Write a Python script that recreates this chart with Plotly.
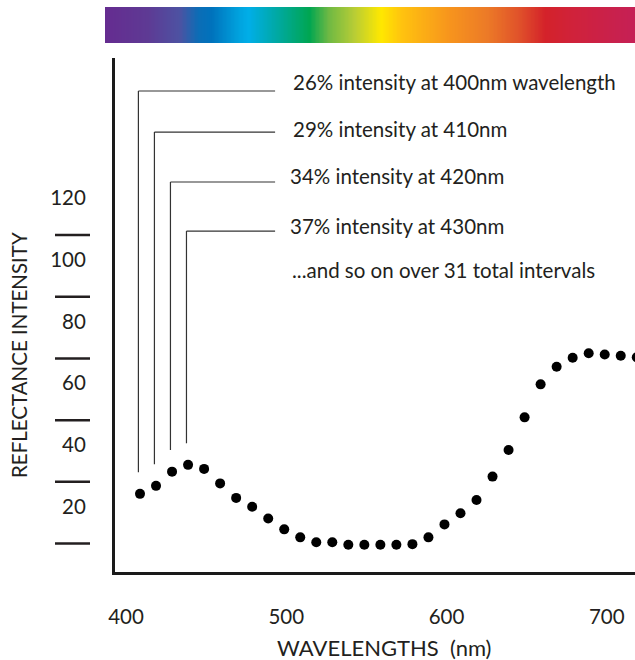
import plotly.graph_objects as go
import numpy as np

# ---- data ----
wavelengths = list(range(400, 720, 10))  # 32 measured intervals shown
intensity = [24.1, 26.7, 31.3, 33.5, 32.2, 27.5, 22.8, 19.9, 16.1, 12.6,
             10.0, 8.4, 8.4, 7.6, 7.6, 7.6, 7.6, 7.8, 10.0, 14.2,
             17.8, 22.1, 29.7, 38.3, 48.9, 59.6, 65.3, 68.2, 69.7, 69.3,
             68.9, 68.4]

y_tick_vals = [20, 40, 60, 80, 100, 120]
y_tick_text = ["20", "40", "60", "80", "100", "120"]
y_dash_vals = [8, 28, 48, 68, 88, 108]
x_tick_vals = [400, 500, 600, 700]
x_tick_text = ["400", "500", "600", "700"]

callout_texts = ["26% intensity at 400nm wavelength",
                 "29% intensity at 410nm",
                 "34% intensity at 420nm",
                 "37% intensity at 430nm",
                 "...and so on over 31 total intervals"]
callout_wavelengths = [400, 410, 420, 430]
callout_tops = [154.7, 141.4, 125.2, 109.3]

spectrum_stops = [
    (0.00, "#652c90"), (0.08, "#5e3a94"), (0.14, "#4d52a2"),
    (0.175, "#0c6db6"), (0.20, "#0072bc"), (0.25, "#00a1dd"),
    (0.27, "#00aee8"), (0.32, "#00a9a8"), (0.385, "#00a651"),
    (0.42, "#6cb844"), (0.47, "#b8cd35"), (0.52, "#ffe800"),
    (0.56, "#ffc20f"), (0.65, "#f7941d"), (0.72, "#ec7a27"),
    (0.78, "#e0522a"), (0.83, "#d4222a"), (0.88, "#d0223a"),
    (1.00, "#c52056"),
]

# ---- layout constants (pixels) ----
W, H = 635, 660
FONT = "Lato"
WEIGHT = 400
INK = "#231f20"

def px_x(p):
    return p / W

def px_y(p):
    return 1 - p / H

def tfont(size):
    return dict(family=FONT, size=size, color=INK, weight=WEIGHT)

fig = go.Figure()

# spectrum bar
n = 400
fig.add_trace(go.Heatmap(
    z=[list(np.linspace(0, 1, n))], x=list(np.linspace(0, 1, n)), y=[0],
    colorscale=[[s, c] for s, c in spectrum_stops], zmin=0, zmax=1,
    zsmooth="best", showscale=False, hoverinfo="skip",
    xaxis="x2", yaxis="y2"))

# data dots
fig.add_trace(go.Scatter(
    x=wavelengths, y=intensity, mode="markers",
    marker=dict(size=10, color="#000000"),
    cliponaxis=True, showlegend=False))

shapes = []
# dashes to the left of y axis
for v in y_dash_vals:
    shapes.append(dict(type="line", xref="paper", yref="y",
                       x0=px_x(55), x1=px_x(90), y0=v, y1=v,
                       line=dict(color=INK, width=2.5)))

# leader lines
LEADER_END_NM = 484.3
GAP = 7
for wl, top in zip(callout_wavelengths, callout_tops):
    val = intensity[wavelengths.index(wl)]
    shapes.append(dict(type="line", xref="x", yref="y",
                       x0=wl - 1, x1=wl - 1, y0=val + GAP, y1=top,
                       line=dict(color="#333333", width=1.2)))
    shapes.append(dict(type="line", xref="x", yref="y",
                       x0=wl - 1, x1=LEADER_END_NM, y0=top, y1=top,
                       line=dict(color="#333333", width=1.2)))

annotations = []
text_y = [82, 129, 176, 226, 270]
text_x = [291, 291, 288, 288, 290]
for t, tx, ty in zip(callout_texts, text_x, text_y):
    annotations.append(dict(text=t, xref="paper", yref="paper",
                            x=px_x(tx), y=px_y(ty), xanchor="left",
                            yanchor="middle", showarrow=False,
                            font=tfont(20.5)))

annotations.append(dict(text="WAVELENGTHS\u00a0\u00a0(nm)", xref="paper",
                        yref="paper", x=px_x(384), y=px_y(647),
                        xanchor="center", yanchor="middle", showarrow=False,
                        font=tfont(22)))
annotations.append(dict(text="REFLECTANCE INTENSITY", xref="paper",
                        yref="paper", x=px_x(19), y=px_y(355),
                        xanchor="center", yanchor="middle", textangle=-90,
                        showarrow=False, font=tfont(20.5)))

fig.update_layout(
    width=W, height=H,
    margin=dict(l=0, r=0, t=0, b=0, autoexpand=False),
    paper_bgcolor="white", plot_bgcolor="white",
    showlegend=False,
    font=dict(family=FONT, color=INK),
    xaxis=dict(domain=[px_x(115), 1], range=[384.4, 708.9],
               tickvals=x_tick_vals, ticktext=x_tick_text,
               ticks="", showgrid=False, zeroline=False, automargin=False,
               showline=True, linewidth=3, linecolor="#1a1a1a",
               ticklabelstandoff=24, ticklabelshift=-14,
               tickfont=tfont(20.5)),
    yaxis=dict(domain=[px_y(572), px_y(58)], range=[-1.23, 165.4],
               tickvals=y_tick_vals, ticktext=y_tick_text,
               ticks="", showgrid=False, zeroline=False, automargin=False,
               showline=True, linewidth=3, linecolor="#1a1a1a",
               ticklabelstandoff=22,
               tickfont=tfont(20.5)),
    xaxis2=dict(domain=[px_x(105), 1], range=[0, 1], visible=False,
                anchor="y2", automargin=False),
    yaxis2=dict(domain=[px_y(43), px_y(7)], range=[-0.5, 0.5],
                visible=False, anchor="x2", automargin=False),
    shapes=shapes,
    annotations=annotations,
)

fig.write_html(
    "out.html",
    config={"displayModeBar": False},
    post_script="document.body.style.margin='0';"
                "document.body.style.overflow='hidden';",
)
